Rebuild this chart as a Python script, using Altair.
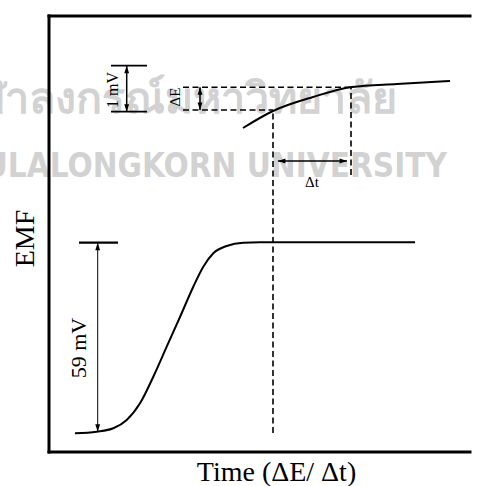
import altair as alt
import pandas as pd

# ---------------- data (arbitrary time / EMF units) ----------------
# full potential step (sigmoid response)
sig_t = [26, 47.7, 64.3, 77.7, 91, 104.3, 117.7, 131, 144.3, 154.3, 164.3, 177.7, 194.3, 211, 366]
sig_e = [18.7, 20.3, 23.7, 32, 48.7, 75.3, 105.3, 135, 165.3, 185.3, 198.7, 206, 209.3, 209.7, 209.7]
# magnified drift curve
drift_t = [194, 224, 264, 303, 348, 401]
drift_e = [324, 341, 355, 365, 368, 371]

# dashed guide lines (t1, t2, e1, e2)
dash_t1 = [134, 134, 224, 302]
dash_t2 = [302, 224, 224, 302]
dash_e1 = [364.7, 342, 19, 277]
dash_e2 = [364.7, 342, 342, 364.7]

# solid brackets / arrow shafts (t1, t2, e1, e2, width)
rule_t1 = [62, 62, 77.7, 151, 229, 30, 48.7]
rule_t2 = [98, 98, 77.7, 151, 298, 69, 48.7]
rule_e1 = [386.3, 340.3, 340.3, 342, 291, 209.3, 20.3]
rule_e2 = [386.3, 340.3, 386.3, 364.7, 291, 209.3, 209.3]
rule_w = [1.8, 1.8, 1.5, 1.5, 1.5, 2.2, 1.0]

# arrow tips
up_t, up_e = [77.7, 151, 48.7], [386.3, 364.7, 209.3]
down_t, down_e = [77.7, 151, 48.7], [340.3, 342, 20.3]
left_t, left_e = [229], [291]
right_t, right_e = [298], [291]

# annotation labels
lab_text = ["1 mV", "ΔE", "59 mV"]
lab_t = [64, 126, 30]
lab_e = [362, 355, 104]
lab_size = [16, 15, 22]
dt_text, dt_t, dt_e = ["Δt"], [263], [270]

# watermark
wm_text = ["จุฬาลงกรณ์มหาวิทยาลัย", "CHULALONGKORN UNIVERSITY"]
wm_t = [348, 398]
wm_e = [339, 275]
wm_size = [43, 33]

W, H = 420, 436
EDGE = 421
frame_t1 = [0, 0, 0]
frame_t2 = [0, EDGE, EDGE]
frame_e1 = [0, 0, H]
frame_e2 = [H, 0, H]

xs = alt.Scale(domain=[0, W], nice=False, zero=False)
ys = alt.Scale(domain=[0, H], nice=False, zero=False)
SERIF = "Liberation Serif"

AX = alt.Axis(title="Time (ΔE/ Δt)", labels=False, ticks=False, grid=False, domain=False,
              orient="bottom", titleFont=SERIF,
              titleFontSize=28, titleFontWeight="normal", titleColor="black",
              titleX=227, titleY=28, titleBaseline="alphabetic", titleAlign="center")
AY = alt.Axis(title="EMF", labels=False, ticks=False, grid=False, domain=False,
              orient="left", titleFont=SERIF,
              titleFontSize=28, titleFontWeight="normal", titleColor="black",
              titleX=-16, titleY=222, titleBaseline="alphabetic", titleAlign="center",
              titleAngle=270)

def X(f="t"):
    return alt.X(f + ":Q", scale=xs, axis=AX)

def Y(f="e"):
    return alt.Y(f + ":Q", scale=ys, axis=AY)

wm_df = pd.DataFrame({"text": wm_text, "t": wm_t, "e": wm_e, "s": wm_size})
watermark = alt.Chart(wm_df).mark_text(
    align="right", baseline="alphabetic", color="#d2d2d2", fontWeight="bold",
    font="Liberation Sans Narrow, DejaVu Sans Condensed, Roboto"
).encode(x=X("t"), y=Y("e"), text="text:N", size=alt.Size("s:Q", scale=None, legend=None))

frame_df = pd.DataFrame({"t": frame_t1, "t2": frame_t2, "e": frame_e1, "e2": frame_e2})
frame = alt.Chart(frame_df).mark_rule(color="black", strokeWidth=3, strokeCap="square").encode(
    x=X("t"), x2="t2:Q", y=Y("e"), y2="e2:Q")

sig_df = pd.DataFrame({"t": sig_t, "e": sig_e, "seg": "step"})
drift_df = pd.DataFrame({"t": drift_t, "e": drift_e, "seg": "drift"})
curves = alt.Chart(pd.concat([sig_df, drift_df])).mark_line(
    color="black", strokeWidth=2, interpolate="monotone").encode(
    x=X("t"), y=Y("e"), detail="seg:N")

dash_df = pd.DataFrame({"t": dash_t1, "t2": dash_t2, "e": dash_e1, "e2": dash_e2})
dashes = alt.Chart(dash_df).mark_rule(color="black", strokeWidth=1.6, strokeDash=[6, 3.5]).encode(
    x=X("t"), x2="t2:Q", y=Y("e"), y2="e2:Q")

rule_df = pd.DataFrame({"t": rule_t1, "t2": rule_t2, "e": rule_e1, "e2": rule_e2, "w": rule_w})
rules = alt.Chart(rule_df).mark_rule(color="black").encode(
    x=X("t"), x2="t2:Q", y=Y("e"), y2="e2:Q",
    strokeWidth=alt.StrokeWidth("w:Q", scale=None, legend=None))

def heads(ts, es, path, dx=0, dy=0):
    df = pd.DataFrame({"t": ts, "e": es})
    return alt.Chart(df).mark_point(shape=path, filled=True, color="black", opacity=1,
                                    size=56, xOffset=dx, yOffset=dy).encode(x=X("t"), y=Y("e"))

h_up = heads(up_t, up_e, "M0,-1L0.65,1L-0.65,1Z", dy=3.7)
h_down = heads(down_t, down_e, "M0,1L0.65,-1L-0.65,-1Z", dy=-3.7)
h_left = heads(left_t, left_e, "M-1,0L1,-0.65L1,0.65Z", dx=3.7)
h_right = heads(right_t, right_e, "M1,0L-1,-0.65L-1,0.65Z", dx=-3.7)

lab_df = pd.DataFrame({"text": lab_text, "t": lab_t, "e": lab_e, "s": lab_size})
labels = alt.Chart(lab_df).mark_text(font=SERIF, angle=270, color="black",
                                     align="center", baseline="middle").encode(
    x=X("t"), y=Y("e"), text="text:N", size=alt.Size("s:Q", scale=None, legend=None))

dt_df = pd.DataFrame({"text": dt_text, "t": dt_t, "e": dt_e})
dt_label = alt.Chart(dt_df).mark_text(font=SERIF, fontSize=15, color="black",
                                      align="center", baseline="middle").encode(
    x=X("t"), y=Y("e"), text="text:N")

chart = alt.layer(
    watermark, frame, dashes, curves, rules, h_up, h_down, h_left, h_right, labels, dt_label
).properties(
    width=W, height=H,
    padding={"left": 49, "top": 16, "right": 8, "bottom": 34},
    autosize=alt.AutoSizeParams(type="none"),
    background="white",
).configure_view(stroke="red", strokeWidth=0)

chart.save("out.html", embed_options={"renderer": "svg", "actions": False})
